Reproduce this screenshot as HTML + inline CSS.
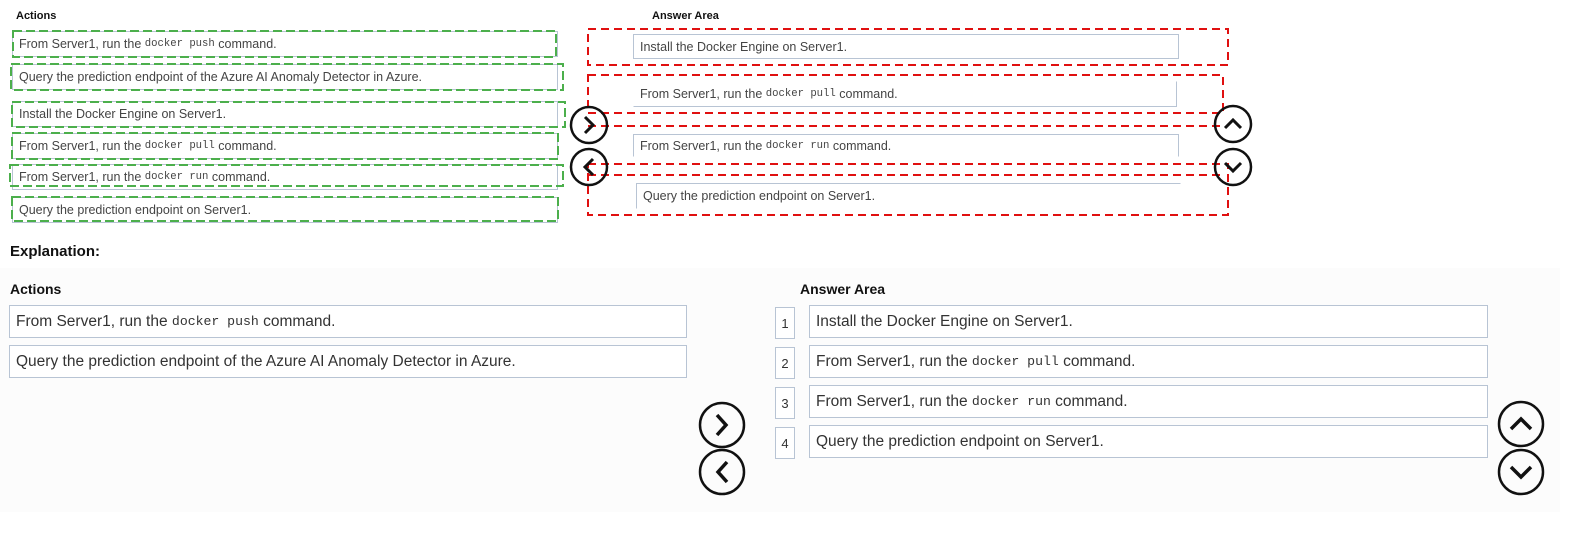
<!DOCTYPE html>
<html><head><meta charset="utf-8"><style>
body{margin:0;width:1570px;height:550px;background:#fff;position:relative;overflow:hidden;font-family:"Liberation Sans",sans-serif;color:#333}
.a{position:absolute}
.b{position:absolute;border:1px solid #b8c4d4;background:#fff;box-sizing:border-box;display:flex;align-items:center;padding-left:6px;white-space:nowrap}
.s{font-size:12.5px;color:#444}
.l{font-size:15.5px;color:#333}
.m{font-family:"Liberation Mono",monospace;font-size:0.85em}
.h{font-weight:bold;color:#111}
.n{position:absolute;border:1px solid #b8c4d4;background:#fff;box-sizing:border-box;font-size:13px;display:flex;align-items:center;justify-content:center;color:#333}
</style></head><body>
<div class="a" style="left:0;top:268px;width:1560px;height:244px;background:#fcfcfc"></div>
<div class="a h" style="left:16px;top:10px;font-size:11px">Actions</div>
<div class="a h" style="left:652px;top:10px;font-size:11px">Answer Area</div>
<div class="b s" style="left:12px;top:31px;width:546px;height:26px">From Server1, run the&nbsp;<span class="m">docker push</span>&nbsp;command.</div>
<div class="b s" style="left:12px;top:64px;width:546px;height:26px">Query the prediction endpoint of the Azure AI Anomaly Detector in Azure.</div>
<div class="b s" style="left:12px;top:101px;width:546px;height:26px">Install the Docker Engine on Server1.</div>
<div class="b s" style="left:12px;top:133px;width:546px;height:26px">From Server1, run the&nbsp;<span class="m">docker pull</span>&nbsp;command.</div>
<div class="b s" style="left:12px;top:164px;width:546px;height:26px">From Server1, run the&nbsp;<span class="m">docker run</span>&nbsp;command.</div>
<div class="b s" style="left:12px;top:197px;width:546px;height:26px">Query the prediction endpoint on Server1.</div>
<div class="b s" style="left:633px;top:34px;width:546px;height:25px">Install the Docker Engine on Server1.</div>
<div class="b s" style="left:633px;top:81px;width:544px;height:26px;border-top-color:#fff;border-left-color:#fff">From Server1, run the&nbsp;<span class="m">docker pull</span>&nbsp;command.</div>
<div class="b s" style="left:633px;top:134px;width:546px;height:23px;border-bottom-color:#fff">From Server1, run the&nbsp;<span class="m">docker run</span>&nbsp;command.</div>
<div class="b s" style="left:636px;top:183px;width:545px;height:26px;border-bottom-color:#fff;border-right-color:#fff">Query the prediction endpoint on Server1.</div>

<div class="a h" style="left:10px;top:243px;font-size:15px">Explanation:</div>
<div class="a h" style="left:10px;top:281px;font-size:14px">Actions</div>
<div class="a h" style="left:800px;top:281px;font-size:14px">Answer Area</div>
<div class="b l" style="left:9px;top:305px;width:678px;height:33px">From Server1, run the&nbsp;<span class="m">docker push</span>&nbsp;command.</div>
<div class="b l" style="left:9px;top:345px;width:678px;height:33px">Query the prediction endpoint of the Azure AI Anomaly Detector in Azure.</div>
<div class="n" style="left:775px;top:307px;width:20px;height:32px">1</div>
<div class="n" style="left:775px;top:347px;width:20px;height:32px">2</div>
<div class="n" style="left:775px;top:387px;width:20px;height:32px">3</div>
<div class="n" style="left:775px;top:427px;width:20px;height:32px">4</div>
<div class="b l" style="left:809px;top:305px;width:679px;height:33px">Install the Docker Engine on Server1.</div>
<div class="b l" style="left:809px;top:345px;width:679px;height:33px">From Server1, run the&nbsp;<span class="m">docker pull</span>&nbsp;command.</div>
<div class="b l" style="left:809px;top:385px;width:679px;height:33px">From Server1, run the&nbsp;<span class="m">docker run</span>&nbsp;command.</div>
<div class="b l" style="left:809px;top:425px;width:679px;height:33px">Query the prediction endpoint on Server1.</div>

<svg class="a" style="left:0;top:0" width="1570" height="550">
<g fill="none" stroke="#4caf4c" stroke-width="2" stroke-dasharray="9,4">
<rect x="13" y="31" width="543" height="26"/>
<rect x="11" y="64" width="552" height="26"/>
<rect x="12" y="102" width="553" height="25"/>
<rect x="12" y="133" width="546" height="26"/>
<rect x="10" y="165" width="553" height="21"/>
<rect x="12" y="197" width="546" height="24"/>
</g>
<g fill="none" stroke="#e01010" stroke-width="2" stroke-dasharray="8,5">
<rect x="588" y="29" width="640" height="36"/>
<rect x="588" y="75" width="635" height="38"/>
<line x1="588" y1="126" x2="1222" y2="126"/>
<rect x="588" y="164" width="640" height="51"/>
<line x1="588" y1="175" x2="1222" y2="175"/>
</g>
<g fill="none" stroke="#111" stroke-width="2.5">
<circle cx="589" cy="125" r="18"/><circle cx="589" cy="167" r="18"/>
<circle cx="1233" cy="124" r="18"/><circle cx="1233" cy="167" r="18"/>
<path d="M585 117l8 8-8 8M593 159l-8 8 8 8M1225 128l8-8 8 8M1225 163l8 8 8-8" stroke-width="3"/>
<circle cx="722" cy="425" r="22"/><circle cx="722" cy="472" r="22"/>
<circle cx="1521" cy="424" r="22"/><circle cx="1521" cy="472" r="22"/>
<path d="M717 415l9 10-9 10M727 462l-9 10 9 10M1511 429l10-10 10 10M1511 467l10 10 10-10" stroke-width="3.5"/>
</g>
</svg>
</body></html>
